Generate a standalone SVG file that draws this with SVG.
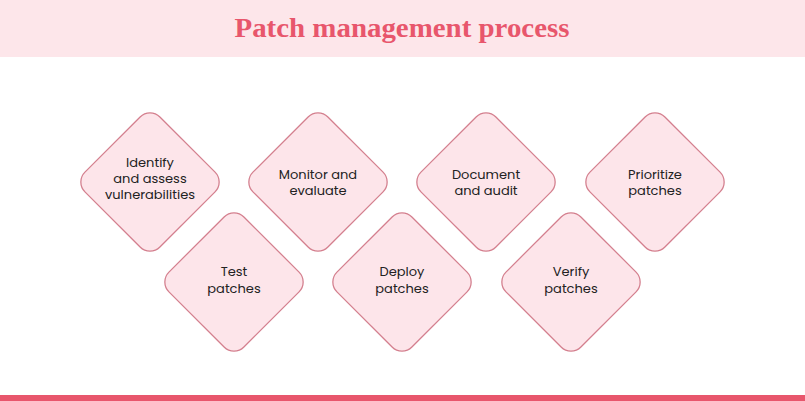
<svg xmlns="http://www.w3.org/2000/svg" width="805" height="401" viewBox="0 0 805 401">
<defs><style>
.d{fill:#fde5ea;stroke:#d4808f;stroke-width:1.3}
.t{font-family:Poppins,"Open Sans","Liberation Sans",sans-serif;font-size:13px;fill:#222;text-anchor:middle}
</style>
<rect id="sq" x="-53" y="-53" width="106" height="106" rx="14" transform="rotate(45)"/></defs>
<rect width="805" height="401" fill="#fff"/>
<rect width="805" height="57" fill="#fde6ea"/>
<text x="402" y="37" text-anchor="middle" font-family="'Liberation Serif',serif" font-weight="bold" font-size="27" textLength="335" lengthAdjust="spacingAndGlyphs" fill="#e8566c">Patch management process</text>
<rect y="395" width="805" height="6" fill="#e8566c"/>
<g id="connectors"/>
<g id="n1" transform="translate(150,182)"><use href="#sq" class="d"/><text class="t" y="-15">Identify</text><text class="t" y="1">and assess</text><text class="t" y="17">vulnerabilities</text></g>
<g id="n2" transform="translate(318,182)"><use href="#sq" class="d"/><text class="t" y="-3">Monitor and</text><text class="t" y="13">evaluate</text></g>
<g id="n3" transform="translate(486,182)"><use href="#sq" class="d"/><text class="t" y="-3">Document</text><text class="t" y="13">and audit</text></g>
<g id="n4" transform="translate(655,182)"><use href="#sq" class="d"/><text class="t" y="-3">Prioritize</text><text class="t" y="13">patches</text></g>
<g id="n5" transform="translate(234,282)"><use href="#sq" class="d"/><text class="t" y="-6">Test</text><text class="t" y="11">patches</text></g>
<g id="n6" transform="translate(402,282)"><use href="#sq" class="d"/><text class="t" y="-6">Deploy</text><text class="t" y="11">patches</text></g>
<g id="n7" transform="translate(571,282)"><use href="#sq" class="d"/><text class="t" y="-6">Verify</text><text class="t" y="11">patches</text></g>
</svg>
